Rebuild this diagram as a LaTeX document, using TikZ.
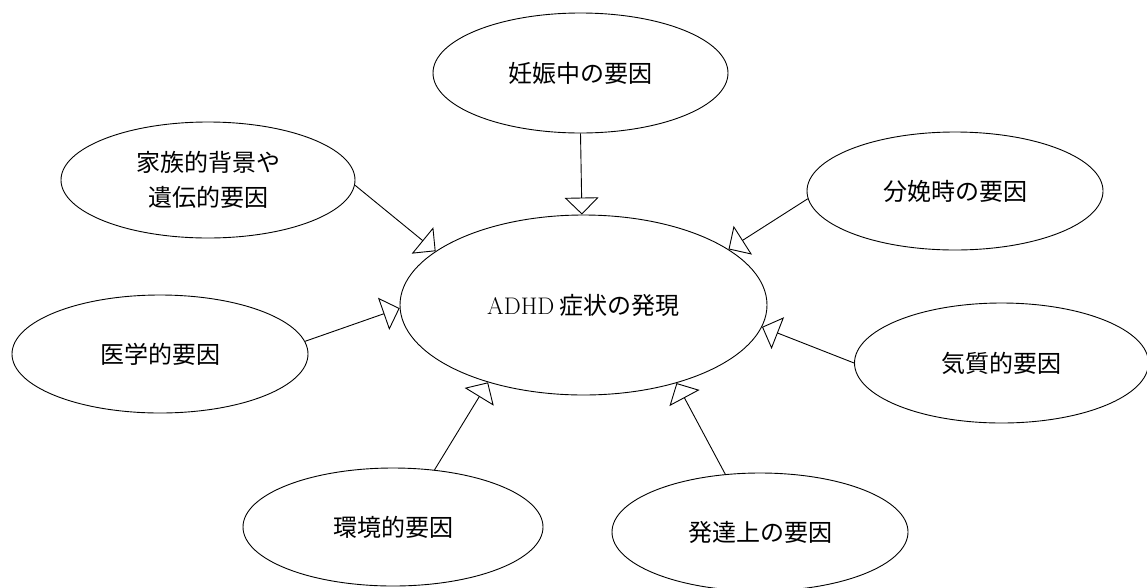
\documentclass[tikz,border=0pt]{standalone}
\usepackage{fontspec}
\newfontfamily\cjk{Noto Sans CJK JP}
\usetikzlibrary{shapes.geometric,arrows.meta}
\begin{document}
\begin{tikzpicture}[x=1pt,y=-1pt,
  factor/.style={draw, ellipse, line width=0.9pt, inner sep=0pt,
    font=\cjk\fontsize{24}{35}\selectfont, align=center},
  link/.style={line width=0.9pt,
    -{Triangle[open, length=17pt, width=34pt, line width=0.9pt]}}]
\useasboundingbox (0,0) rectangle (1147,587);
\node[factor, minimum width=295pt, minimum height=120pt] (p) at (580.5,73) {妊娠中の要因};
\node[factor, minimum width=294pt, minimum height=116pt] (f) at (208,180) {家族的背景や\\遺伝的要因};
\node[factor, minimum width=296pt, minimum height=118pt] (b) at (955,191) {分娩時の要因};
\node[factor, minimum width=367pt, minimum height=180pt] (c) at (583.5,305) {{\rmfamily ADHD} 症状の発現};
\node[factor, minimum width=296pt, minimum height=118pt] (m) at (160,354) {医学的要因};
\node[factor, minimum width=294pt, minimum height=120pt] (t) at (1001.5,363) {気質的要因};
\node[factor, minimum width=300pt, minimum height=118pt] (e) at (393,527) {環境的要因};
\node[factor, minimum width=296pt, minimum height=118pt] (d) at (760,532) {発達上の要因};
\draw[link] (p.270) -- (c.91);
\draw[link] (f.-2) -- (c.160);
\draw[link] (b.183) -- (c.21);
\draw[link] (m.5) -- (c.181);
\draw[link] (t.180) -- (c.353);
\draw[link] (e.54) -- (c.219);
\draw[link] (d.121) -- (c.320);
\end{tikzpicture}
\end{document}
